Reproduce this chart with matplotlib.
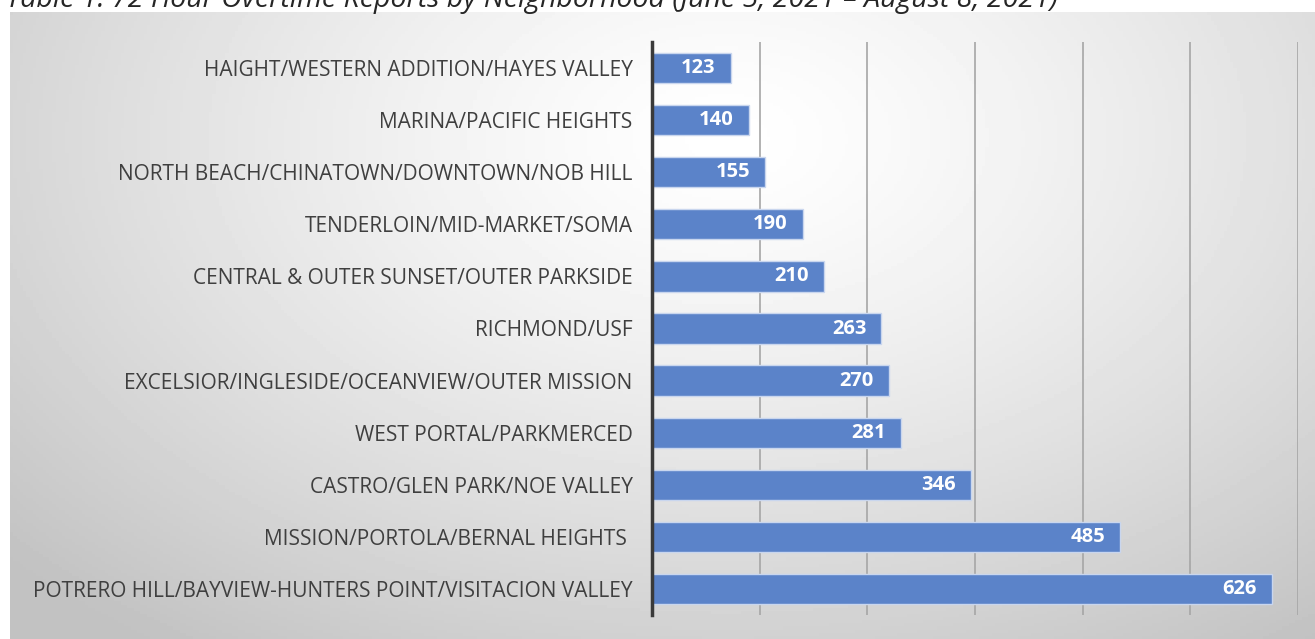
import matplotlib.pyplot as plt
import numpy as np

neighborhoods = [
    'HAIGHT/WESTERN ADDITION/HAYES VALLEY',
    'MARINA/PACIFIC HEIGHTS',
    'NORTH BEACH/CHINATOWN/DOWNTOWN/NOB HILL',
    'TENDERLOIN/MID-MARKET/SOMA',
    'CENTRAL & OUTER SUNSET/OUTER PARKSIDE',
    'RICHMOND/USF',
    'EXCELSIOR/INGLESIDE/OCEANVIEW/OUTER MISSION',
    'WEST PORTAL/PARKMERCED',
    'CASTRO/GLEN PARK/NOE VALLEY',
    'MISSION/PORTOLA/BERNAL HEIGHTS ',
    'POTRERO HILL/BAYVIEW-HUNTERS POINT/VISITACION VALLEY',
]
reports = [123, 140, 155, 190, 210, 263, 270, 281, 346, 485, 626]
grid_values = [150, 250, 350, 450, 550, 650]

title = 'Table 1: 72 Hour Overtime Reports by Neighborhood (June 5, 2021 \u2013 August 8, 2021)'

W, H = 1315, 639
fig = plt.figure(figsize=(W / 100, H / 100), dpi=100)
fig.patch.set_facecolor('white')

# chart area with radial grey gradient
bg = fig.add_axes([10 / W, 0, 1 - 10 / W, (H - 12) / H])
bg.set_axis_off()
gx, gy = np.meshgrid(np.linspace(0, 1, 400), np.linspace(0, 1, 200))
r = np.sqrt(((gx - 0.55) / 0.75) ** 2 + ((gy - 0.8) / 1.0) ** 2)
shade = 1.0 - 0.24 * np.clip(r, 0, 1) ** 1.3
bg.imshow(shade, cmap='gray', vmin=0, vmax=1, aspect='auto',
          extent=[0, 1, 0, 1], origin='lower')
bg.set_xlim(0, 1)
bg.set_ylim(0, 1)

# title sits mostly above the crop, as in the source screenshot
fig.text(6 / W, 1 - 7 / H, title, fontsize=20.5, style='italic',
         family='Open Sans', color='#262626', va='baseline', ha='left')

left, right = 652, 1298
top, bottom = 42, 615
ax = fig.add_axes([left / W, 1 - bottom / H, (right - left) / W, (bottom - top) / H])
ax.patch.set_alpha(0)

y = np.arange(len(neighborhoods))
bars = ax.barh(y, reports, height=0.58, left=0, color='#5b83c9',
               edgecolor='#c9d6ee', linewidth=1.0, zorder=3)
ax.set_xlim(50, 650)
ax.set_ylim(len(neighborhoods) - 0.5, -0.5)

for g in grid_values:
    ax.axvline(g, color='#a6a6a6', linewidth=1.2, zorder=1)

for b, v in zip(bars, reports):
    ax.text(v - 14, b.get_y() + b.get_height() / 2, str(v), ha='right',
            va='center', color='white', fontsize=14.5, fontweight='bold',
            family='Open Sans', zorder=4)

ax.set_yticks(y)
ax.set_yticklabels(neighborhoods, fontsize=15, family='Open Sans',
                   color='#3f3f3f')
ax.tick_params(axis='y', length=0, pad=14)
ax.set_xticks([])
for s in ['top', 'right', 'bottom']:
    ax.spines[s].set_visible(False)
ax.spines['left'].set_linewidth(2.5)
ax.spines['left'].set_color('#3a3a3a')
ax.spines['left'].set_zorder(5)

fig.savefig('out.png', dpi=100)
